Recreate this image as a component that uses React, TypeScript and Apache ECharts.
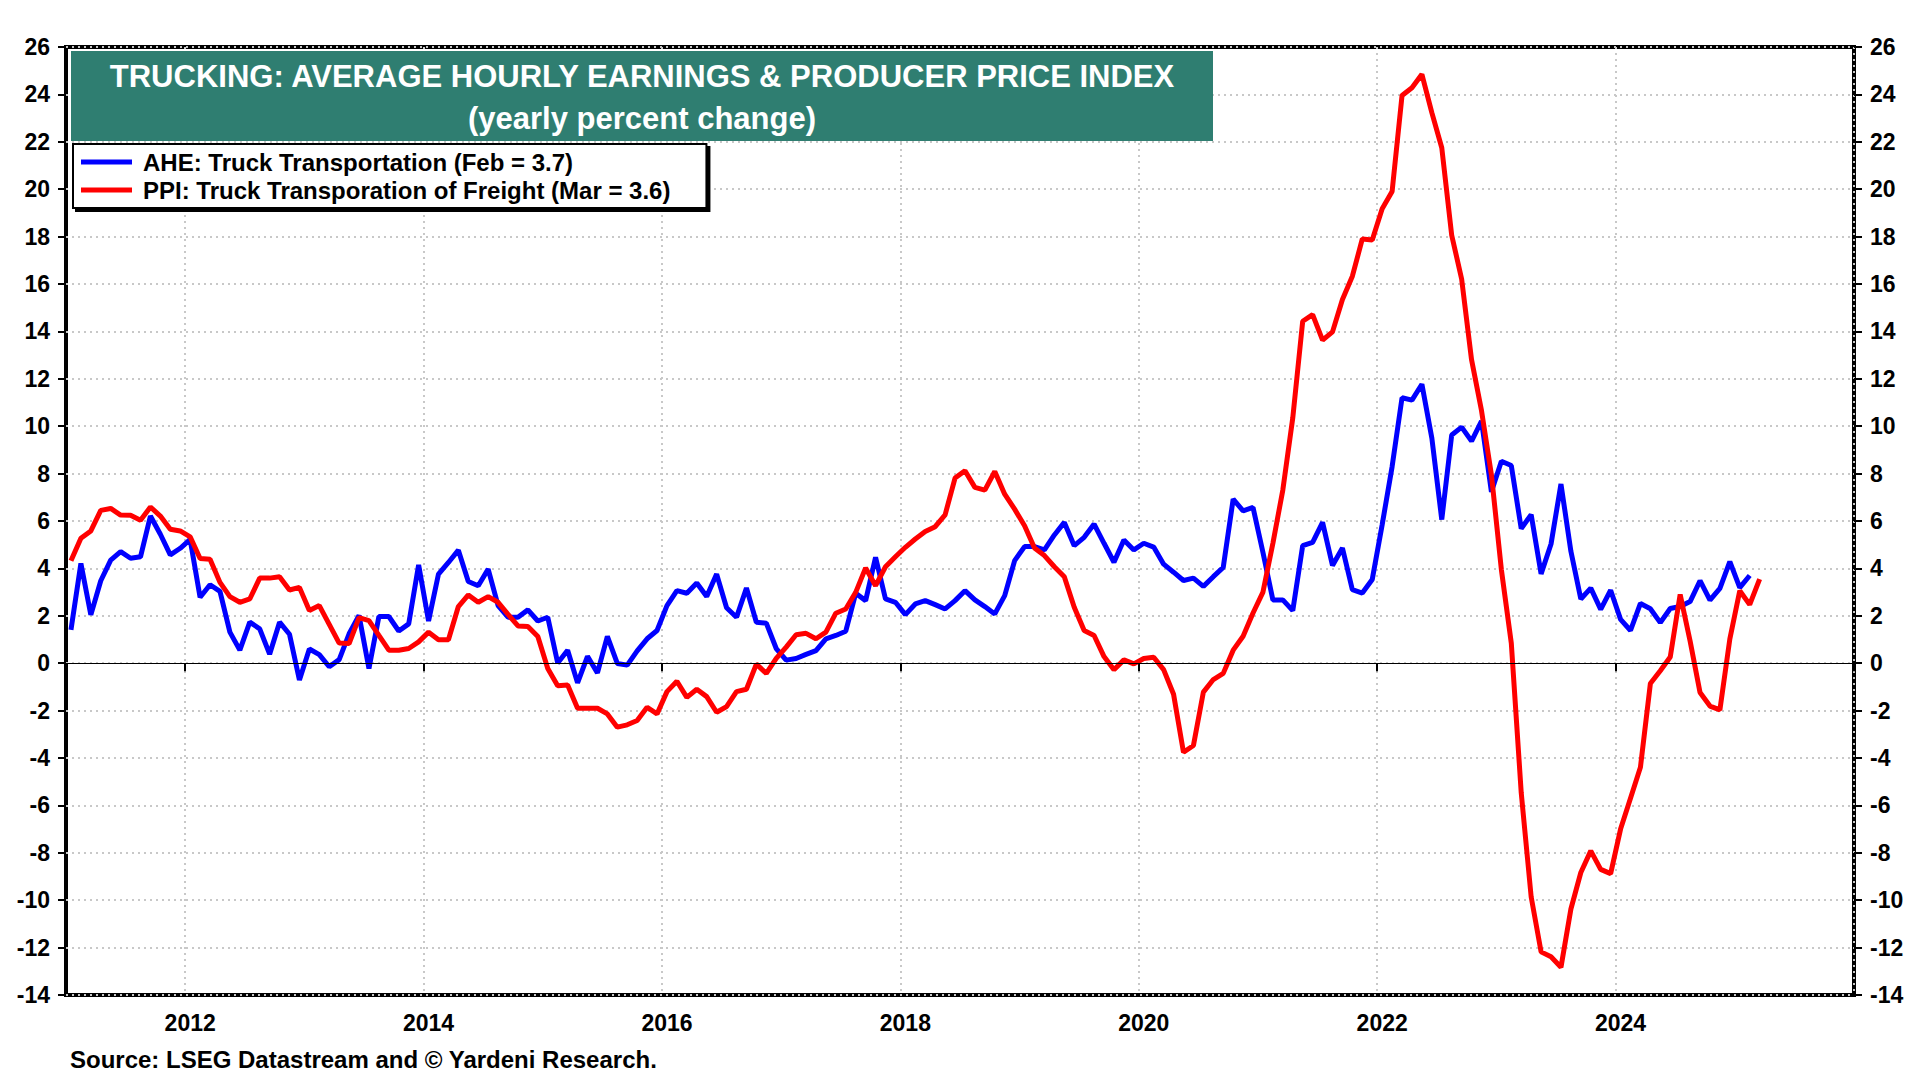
import React, { useEffect, useRef } from "react";
import * as echarts from "echarts";

type EChartsOption = echarts.EChartsOption;

const FONT = '"Liberation Sans", Arial, sans-serif';

// monthly categories, Jan 2011 .. Dec 2025
const months: string[] = [];
for (let y = 2011; y <= 2025; y++) {
  for (let m = 1; m <= 12; m++) months.push(`${y}-${String(m).padStart(2, "0")}`);
}

const ahe = [
  1.41, 4.21, 2.04, 3.48, 4.35, 4.71, 4.43, 4.49, 6.21, 5.44, 4.57, 4.85,
  5.22, 2.78, 3.31, 3.03, 1.31, 0.55, 1.73, 1.45, 0.38, 1.73, 1.22, -0.71,
  0.6, 0.36, -0.15, 0.15, 1.24, 2.01, -0.22, 1.97, 1.97, 1.36, 1.66, 4.15,
  1.78, 3.76, 4.25, 4.77, 3.45, 3.27, 3.97, 2.43, 1.94, 1.94, 2.25, 1.78,
  1.94, 0.01, 0.55, -0.83, 0.29, -0.41, 1.13, -0.01, -0.08, 0.52, 1.03, 1.38,
  2.43, 3.06, 2.95, 3.38, 2.81, 3.76, 2.34, 1.94, 3.17, 1.73, 1.69, 0.62,
  0.13, 0.2, 0.37, 0.53, 1.03, 1.17, 1.35, 2.95, 2.64, 4.47, 2.71, 2.57,
  2.05, 2.5, 2.64, 2.47, 2.29, 2.64, 3.06, 2.67, 2.39, 2.08, 2.85, 4.33,
  4.92, 4.92, 4.78, 5.41, 5.94, 4.96, 5.31, 5.87, 5.06, 4.26, 5.2, 4.78,
  5.06, 4.9, 4.18, 3.84, 3.49, 3.59, 3.24, 3.65, 4.04, 6.92, 6.43, 6.57,
  4.67, 2.67, 2.67, 2.22, 4.96, 5.1, 5.94, 4.12, 4.86, 3.1, 2.96, 3.53,
  5.84, 8.29, 11.2, 11.1, 11.77, 9.5, 6.06, 9.63, 9.96, 9.37, 10.22, 7.23,
  8.52, 8.34, 5.68, 6.27, 3.77, 5.03, 7.56, 4.72, 2.71, 3.17, 2.27, 3.08,
  1.85, 1.38, 2.52, 2.3, 1.71, 2.31, 2.39, 2.6, 3.48, 2.66, 3.16, 4.29,
  3.19, 3.7,
];

const ppi = [
  4.32, 5.27, 5.58, 6.45, 6.53, 6.25, 6.24, 6.03, 6.59, 6.21, 5.65, 5.58,
  5.33, 4.42, 4.39, 3.41, 2.81, 2.57, 2.71, 3.59, 3.59, 3.65, 3.09, 3.2,
  2.22, 2.43, 1.64, 0.85, 0.83, 1.92, 1.8, 1.17, 0.55, 0.55, 0.62, 0.9,
  1.31, 0.99, 0.99, 2.39, 2.88, 2.57, 2.81, 2.57, 2.06, 1.57, 1.55, 1.13,
  -0.22, -0.95, -0.92, -1.9, -1.9, -1.9, -2.14, -2.7, -2.6, -2.42, -1.86, -2.14,
  -1.2, -0.76, -1.44, -1.1, -1.41, -2.07, -1.83, -1.2, -1.1, -0.04, -0.43, 0.2,
  0.68, 1.2, 1.26, 1.03, 1.31, 2.11, 2.29, 2.99, 4.02, 3.27, 4.07, 4.49,
  4.89, 5.24, 5.56, 5.76, 6.26, 7.81, 8.12, 7.42, 7.3, 8.09, 7.13, 6.5,
  5.8, 4.86, 4.54, 4.07, 3.65, 2.36, 1.38, 1.17, 0.28, -0.28, 0.14, -0.03,
  0.2, 0.25, -0.27, -1.31, -3.76, -3.47, -1.22, -0.69, -0.43, 0.55, 1.14, 2.12,
  3.0, 5.06, 7.31, 10.35, 14.43, 14.71, 13.63, 13.98, 15.35, 16.33, 17.9, 17.86,
  19.18, 19.9, 23.95, 24.28, 24.85, 23.23, 21.75, 18.06, 16.21, 12.8, 10.66, 7.95,
  3.95, 0.85, -5.47, -9.86, -12.18, -12.39, -12.83, -10.37, -8.83, -7.92, -8.7, -8.88,
  -7.0, -5.7, -4.39, -0.86, -0.32, 0.26, 2.9, 0.94, -1.24, -1.81, -1.97, 1.02,
  3.06, 2.47, 3.55,
];

const AHE_NAME = "AHE: Truck Transportation (Feb = 3.7)";
const PPI_NAME = "PPI: Truck Transporation of Freight (Mar = 3.6)";
const TITLE_1 = "TRUCKING: AVERAGE HOURLY EARNINGS & PRODUCER PRICE INDEX";
const TITLE_2 = "(yearly percent change)";
const SOURCE = "Source: LSEG Datastream and \u00a9 Yardeni Research.";

// year marks only on January of even years
const isYearMark = (idx: number) => {
  const v = months[idx];
  return v.endsWith("-01") && Number(v.slice(0, 4)) % 2 === 0;
};

const dotted = { color: "#c8c8c8", width: 2, type: [2, 4] as number[] };

const yAxisBase = {
  type: "value" as const,
  min: -14,
  max: 26,
  interval: 2,
  axisLine: { show: false },
  axisTick: { show: true, length: 8, lineStyle: { color: "#000", width: 2 } },
  axisLabel: {
    color: "#000",
    fontFamily: FONT,
    fontWeight: "bold" as const,
    fontSize: 23,
    margin: 16,
  },
};

const App: React.FC = () => {
  const chartRef = useRef<HTMLDivElement>(null);

  useEffect(() => {
    document.body.style.margin = "0";
    if (!chartRef.current) return;
    const myChart = echarts.init(chartRef.current, undefined, { renderer: "svg" });

    const option: EChartsOption = {
      animation: false,
      backgroundColor: "#fff",
      grid: {
        left: 66,
        right: 66,
        top: 47,
        bottom: 85,
        show: true,
        borderColor: "#000",
        borderWidth: 4,
        containLabel: false,
      },
      xAxis: {
        type: "category",
        data: months,
        boundaryGap: true,
        axisLine: { show: false },
        axisTick: {
          show: true,
          length: 8,
          interval: (idx: number) => isYearMark(idx),
          lineStyle: { color: "#000", width: 2 },
        },
        axisLabel: {
          interval: (idx: number) => isYearMark(idx),
          formatter: (v: string) => v.slice(0, 4),
          color: "#000",
          fontFamily: FONT,
          fontWeight: "bold",
          fontSize: 23,
          margin: 16,
        },
        splitLine: {
          show: true,
          interval: (idx: number) => isYearMark(idx),
          lineStyle: dotted,
        },
      },
      yAxis: [
        { ...yAxisBase, position: "left", splitLine: { show: true, lineStyle: dotted } },
        { ...yAxisBase, position: "right", splitLine: { show: false } },
      ],
      legend: {
        data: [AHE_NAME, PPI_NAME],
        orient: "vertical",
        left: 73,
        top: 144,
        backgroundColor: "#fff",
        borderColor: "#000",
        borderWidth: 2,
        shadowColor: "#000",
        shadowOffsetX: 3,
        shadowOffsetY: 3,
        shadowBlur: 0,
        padding: [5, 36, 5, 8],
        itemGap: 2,
        itemWidth: 51,
        itemHeight: 5,
        icon: "rect",
        selectedMode: false,
        textStyle: {
          color: "#000",
          fontFamily: FONT,
          fontWeight: "bold",
          fontSize: 24,
          lineHeight: 26,
          padding: [0, 0, 0, 6],
        },
      },
      graphic: [
        {
          type: "rect",
          z: 100,
          shape: { x: 71, y: 51, width: 1142, height: 90 },
          style: { fill: "#2f7e71" },
        },
        {
          type: "text",
          z: 101,
          x: 642,
          y: 76,
          style: {
            text: TITLE_1,
            fill: "#fff",
            font: `bold 31px ${FONT}`,
            textAlign: "center",
            textVerticalAlign: "middle",
            align: "center",
            verticalAlign: "middle",
          } as any,
        },
        {
          type: "text",
          z: 101,
          x: 642,
          y: 118,
          style: {
            text: TITLE_2,
            fill: "#fff",
            font: `bold 31px ${FONT}`,
            textAlign: "center",
            textVerticalAlign: "middle",
            align: "center",
            verticalAlign: "middle",
          } as any,
        },
        {
          type: "text",
          z: 101,
          x: 70,
          y: 1059,
          style: {
            text: SOURCE,
            fill: "#000",
            font: `bold 24px ${FONT}`,
            textAlign: "left",
            textVerticalAlign: "middle",
            align: "left",
            verticalAlign: "middle",
          } as any,
        },
      ],
      series: [
        {
          name: AHE_NAME,
          type: "line",
          data: ahe,
          symbol: "none",
          color: "#0000ff",
          lineStyle: { color: "#0000ff", width: 5 },
          markLine: {
            silent: true,
            symbol: ["none", "none"],
            label: { show: false },
            lineStyle: { color: "#000", width: 1.2, type: "solid" },
            data: [{ yAxis: 0 }],
          },
        },
        {
          name: PPI_NAME,
          type: "line",
          data: ppi,
          symbol: "none",
          color: "#ff0000",
          lineStyle: { color: "#ff0000", width: 5 },
        },
      ],
    };

    myChart.setOption(option);
    return () => {
      myChart.dispose();
    };
  }, []);

  return <div ref={chartRef} style={{ width: "1920px", height: "1080px" }} />;
};

export default App;
